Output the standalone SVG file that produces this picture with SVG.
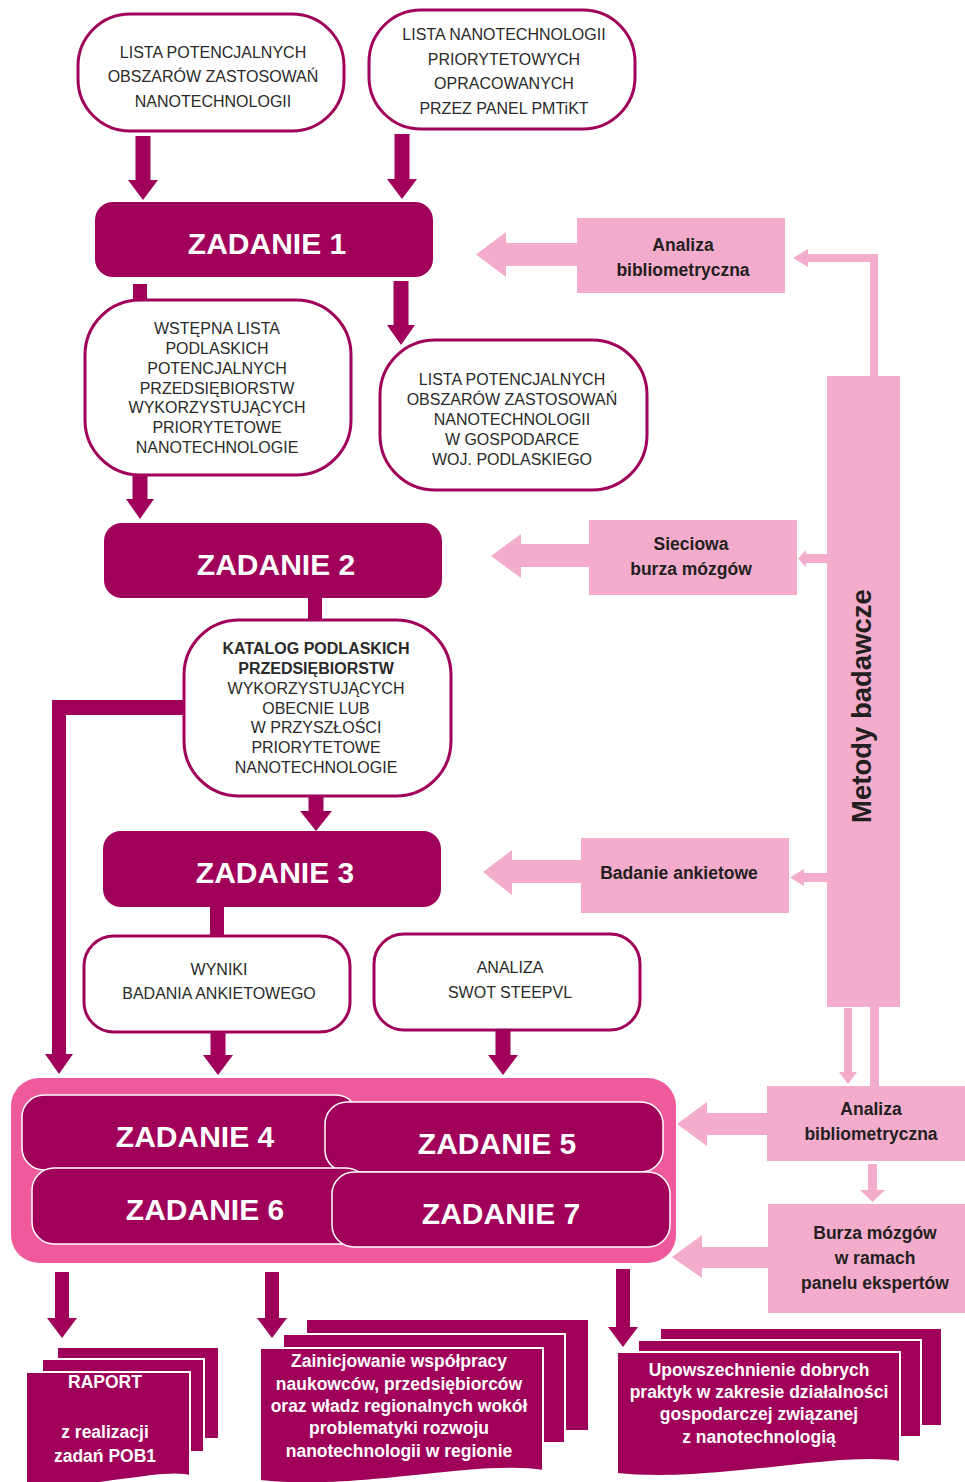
<svg xmlns="http://www.w3.org/2000/svg" width="965" height="1482" viewBox="0 0 965 1482">
<style>
.nb{fill:#fff;stroke:#A0005A;stroke-width:3}
.tb{fill:#A0005A}
.tk{fill:#A0005A;stroke:#fff;stroke-width:1.5}
.pk{fill:#F3ACCB}
.dk{fill:#A0005A}
.doc{fill:#A0005A;stroke:#fff;stroke-width:2}
.t{font-family:"Liberation Sans",Arial,sans-serif;font-size:16px;fill:#2a2a2a;text-anchor:middle}
.tbd{font-weight:bold}
.z{font-family:"Liberation Sans",Arial,sans-serif;font-size:30px;font-weight:bold;fill:#fff;text-anchor:middle}
.p{font-family:"Liberation Sans",Arial,sans-serif;font-size:17.5px;font-weight:bold;fill:#231F20;text-anchor:middle}
.w{font-family:"Liberation Sans",Arial,sans-serif;font-size:17.5px;font-weight:bold;fill:#fff;text-anchor:middle}
</style>
<rect width="965" height="1482" fill="#fff"/>

<g id="connectors">
  <!-- dark arrows -->
  <polygon class="dk" points="135.5,136 150.5,136 150.5,180 158,180 143,200 128,180 135.5,180"/>
  <polygon class="dk" points="394.5,134 409.5,134 409.5,179 417,179 402,199 387,179 394.5,179"/>
  <rect class="dk" x="133" y="284" width="14" height="17"/>
  <polygon class="dk" points="393.5,281 408.5,281 408.5,325 415,325 401,345 387,325 393.5,325"/>
  <polygon class="dk" points="132.5,475 147.5,475 147.5,499 154,499 140,519 126,499 132.5,499"/>
  <rect class="dk" x="308" y="597" width="14" height="25"/>
  <polygon class="dk" points="185,700 185,715 66,715 66,1054 73,1054 59,1074 45,1054 52,1054 52,700"/>
  <polygon class="dk" points="308.5,796 323.5,796 323.5,811 332,811 316,831 300,811 308.5,811"/>
  <rect class="dk" x="210" y="906" width="14" height="31"/>
  <polygon class="dk" points="210.5,1032 225.5,1032 225.5,1055 233,1055 218,1075 203,1055 210.5,1055"/>
  <polygon class="dk" points="495.5,1030 510.5,1030 510.5,1055 518,1055 503,1075 488,1055 495.5,1055"/>
  <polygon class="dk" points="55,1272 69,1272 69,1318 77,1318 62,1338 47,1318 55,1318"/>
  <polygon class="dk" points="265,1272 279,1272 279,1318 287,1318 272,1338 257,1318 265,1318"/>
  <polygon class="dk" points="616,1269 630,1269 630,1327 638,1327 623,1347 608,1327 616,1327"/>
  <!-- pink block arrows -->
  <polygon class="pk" points="578,243 506,243 506,232 476,254.5 506,277 506,266 578,266"/>
  <polygon class="pk" points="590,544 521,544 521,534 491,556 521,578 521,567 590,567"/>
  <polygon class="pk" points="582,860 512,860 512,850 483,872 512,895 512,883 582,883"/>
  <polygon class="pk" points="768,1113 707,1113 707,1102 677,1124 707,1146 707,1135 768,1135"/>
  <polygon class="pk" points="769,1247 702,1247 702,1235 672,1257 702,1278 702,1268 769,1268"/>
  <!-- small pink connectors -->
  <polygon class="pk" points="878,377 870,377 870,262 808,262 808,267 793,258 808,249 808,254 878,254"/>
  <polygon class="pk" points="827,554 806,554 806,550 798,558.5 806,567 806,563 827,563"/>
  <polygon class="pk" points="827,873 804,873 804,869 790,877.5 804,886 804,882 827,882"/>
  <polygon class="pk" points="844,1008 852,1008 852,1072 857,1072 848,1084 839,1072 844,1072"/>
  <rect class="pk" x="870" y="1006" width="9" height="81"/>
  <polygon class="pk" points="868,1164 877,1164 877,1190 885,1190 872.5,1202 860,1190 868,1190"/>
</g>

<g id="node-lista-obszarow">
  <rect class="nb" x="78" y="14" width="266" height="117" rx="52"/>
  <text class="t" x="213" y="58">LISTA POTENCJALNYCH</text>
  <text class="t" x="213" y="82">OBSZARÓW ZASTOSOWAŃ</text>
  <text class="t" x="213" y="107">NANOTECHNOLOGII</text>
</g>
<g id="node-lista-nanotech">
  <rect class="nb" x="369" y="10" width="266" height="119" rx="52"/>
  <text class="t" x="504" y="40">LISTA NANOTECHNOLOGII</text>
  <text class="t" x="504" y="65">PRIORYTETOWYCH</text>
  <text class="t" x="504" y="89">OPRACOWANYCH</text>
  <text class="t" x="504" y="114">PRZEZ PANEL PMTiKT</text>
</g>
<g id="node-zadanie1">
  <rect class="tb" x="95" y="202" width="338" height="75" rx="18"/>
  <text class="z" x="267" y="254">ZADANIE 1</text>
</g>
<g id="node-wstepna">
  <rect class="nb" x="85" y="300" width="266" height="175" rx="55"/>
  <text class="t" x="217" y="334">WSTĘPNA LISTA</text>
  <text class="t" x="217" y="354">PODLASKICH</text>
  <text class="t" x="217" y="374">POTENCJALNYCH</text>
  <text class="t" x="217" y="394">PRZEDSIĘBIORSTW</text>
  <text class="t" x="217" y="413">WYKORZYSTUJĄCYCH</text>
  <text class="t" x="217" y="433">PRIORYTETOWE</text>
  <text class="t" x="217" y="453">NANOTECHNOLOGIE</text>
</g>
<g id="node-lista-gospodarka">
  <rect class="nb" x="380" y="340" width="267" height="150" rx="55"/>
  <text class="t" x="512" y="385">LISTA POTENCJALNYCH</text>
  <text class="t" x="512" y="405">OBSZARÓW ZASTOSOWAŃ</text>
  <text class="t" x="512" y="425">NANOTECHNOLOGII</text>
  <text class="t" x="512" y="445">W GOSPODARCE</text>
  <text class="t" x="512" y="465">WOJ. PODLASKIEGO</text>
</g>
<g id="node-zadanie2">
  <rect class="tb" x="104" y="523" width="338" height="75" rx="18"/>
  <text class="z" x="276" y="575">ZADANIE 2</text>
</g>
<g id="node-katalog">
  <rect class="nb" x="184" y="620" width="267" height="176" rx="55"/>
  <text class="t tbd" x="316" y="654">KATALOG PODLASKICH</text>
  <text class="t tbd" x="316" y="674">PRZEDSIĘBIORSTW</text>
  <text class="t" x="316" y="694">WYKORZYSTUJĄCYCH</text>
  <text class="t" x="316" y="714">OBECNIE LUB</text>
  <text class="t" x="316" y="733">W PRZYSZŁOŚCI</text>
  <text class="t" x="316" y="753">PRIORYTETOWE</text>
  <text class="t" x="316" y="773">NANOTECHNOLOGIE</text>
</g>
<g id="node-zadanie3">
  <rect class="tb" x="103" y="831" width="338" height="76" rx="18"/>
  <text class="z" x="275" y="883">ZADANIE 3</text>
</g>
<g id="node-wyniki">
  <rect class="nb" x="84" y="936" width="266" height="96" rx="30"/>
  <text class="t" x="219" y="975">WYNIKI</text>
  <text class="t" x="219" y="999">BADANIA ANKIETOWEGO</text>
</g>
<g id="node-swot">
  <rect class="nb" x="374" y="934" width="266" height="96" rx="30"/>
  <text class="t" x="510" y="973">ANALIZA</text>
  <text class="t" x="510" y="998">SWOT STEEPVL</text>
</g>
<g id="node-zadania-4-7">
  <rect x="11" y="1078" width="665" height="185" rx="28" fill="#EE5A9C"/>
  <rect class="tk" x="22" y="1095" width="336" height="75" rx="22"/>
  <text class="z" x="195" y="1147">ZADANIE 4</text>
  <rect class="tk" x="325" y="1102" width="338" height="70" rx="22"/>
  <text class="z" x="497" y="1154">ZADANIE 5</text>
  <rect class="tk" x="32" y="1168" width="336" height="76" rx="22"/>
  <text class="z" x="205" y="1220">ZADANIE 6</text>
  <rect class="tk" x="332" y="1172" width="338" height="75" rx="22"/>
  <text class="z" x="501" y="1224">ZADANIE 7</text>
</g>
<g id="node-analiza-top">
  <rect class="pk" x="577" y="218" width="208" height="75"/>
  <text class="p" x="683" y="251">Analiza</text>
  <text class="p" x="683" y="276">bibliometryczna</text>
</g>
<g id="node-metody">
  <rect class="pk" x="827" y="376" width="73" height="631"/>
  <text class="p" style="font-size:27.5px" transform="translate(871,706) rotate(-90)">Metody badawcze</text>
</g>
<g id="node-sieciowa">
  <rect class="pk" x="589" y="520" width="208" height="75"/>
  <text class="p" x="691" y="550">Sieciowa</text>
  <text class="p" x="691" y="575">burza mózgów</text>
</g>
<g id="node-badanie">
  <rect class="pk" x="581" y="838" width="208" height="75"/>
  <text class="p" x="679" y="879">Badanie ankietowe</text>
</g>
<g id="node-analiza-bottom">
  <rect class="pk" x="767" y="1086" width="198" height="75"/>
  <text class="p" x="871" y="1115">Analiza</text>
  <text class="p" x="871" y="1140">bibliometryczna</text>
</g>
<g id="node-burza">
  <rect class="pk" x="768" y="1204" width="197" height="109"/>
  <text class="p" x="875" y="1239">Burza mózgów</text>
  <text class="p" x="875" y="1264">w ramach</text>
  <text class="p" x="875" y="1289">panelu ekspertów</text>
</g>
<g id="node-raport">
  <rect class="doc" x="57" y="1347" width="162" height="92"/>
  <rect class="doc" x="42" y="1359" width="162" height="93"/>
  <path class="doc" d="M26,1372 H190 V1476 C160,1468 80,1494 26,1484 Z"/>
  <text class="w" x="105" y="1388">RAPORT</text>
  <text class="w" x="105" y="1438">z realizacji</text>
  <text class="w" x="105" y="1462">zadań POB1</text>
</g>
<g id="node-wspolpraca">
  <rect class="doc" x="306" y="1319" width="283" height="112"/>
  <rect class="doc" x="283" y="1334" width="282" height="109"/>
  <path class="doc" d="M260,1348 H543 V1471 C480,1460 360,1492 260,1481 Z"/>
  <text class="w" x="399" y="1367">Zainicjowanie współpracy</text>
  <text class="w" x="399" y="1390">naukowców, przedsiębiorców</text>
  <text class="w" x="399" y="1412">oraz władz regionalnych wokół</text>
  <text class="w" x="399" y="1434">problematyki rozwoju</text>
  <text class="w" x="399" y="1457">nanotechnologii w regionie</text>
</g>
<g id="node-upowszechnienie">
  <rect class="doc" x="660" y="1328" width="282" height="98"/>
  <rect class="doc" x="638" y="1340" width="283" height="97"/>
  <path class="doc" d="M617,1352 H900 V1462 C840,1452 710,1484 617,1474 Z"/>
  <text class="w" x="759" y="1376">Upowszechnienie dobrych</text>
  <text class="w" x="759" y="1398">praktyk w zakresie działalności</text>
  <text class="w" x="759" y="1420">gospodarczej związanej</text>
  <text class="w" x="759" y="1443">z nanotechnologią</text>
</g>
</svg>
